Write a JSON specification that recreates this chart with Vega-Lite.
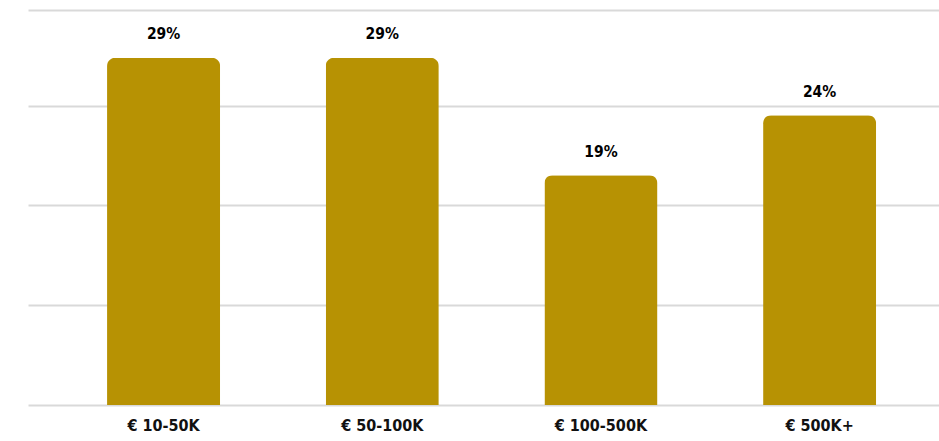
{
  "$schema": "https://vega.github.io/schema/vega-lite/v6.json",
  "autosize": "none",
  "padding": {"left": 28, "top": 10, "right": 0, "bottom": 36},
  "width": 911,
  "height": 395,
  "background": "white",
  "config": {"view": {"stroke": null}},
  "data": {"values": [
    {"range": "€ 10-50K", "share": 0.290},
    {"range": "€ 50-100K", "share": 0.290},
    {"range": "€ 100-500K", "share": 0.192},
    {"range": "€ 500K+", "share": 0.242}
  ]},
  "encoding": {
    "x": {"field": "range", "type": "nominal", "sort": null,
      "scale": {"paddingInner": 0.483, "paddingOuter": 0.3245, "align": 0.557},
      "axis": {"title": null, "domain": false, "ticks": false, "labelAngle": 0,
        "labelFont": "DejaVu Sans Condensed", "labelFontWeight": "bold", "labelFontSize": 16,
        "labelColor": "#111111", "labelPadding": 12}},
    "y": {"field": "share", "type": "quantitative",
      "scale": {"domain": [0, 0.33], "nice": false},
      "axis": {"title": null, "labels": false, "ticks": false, "domain": false,
        "values": [0, 0.0835, 0.1667, 0.2498, 0.33],
        "gridColor": "#d9d9d9", "gridWidth": 2}}
  },
  "layer": [
    {"mark": {"type": "bar", "color": "#B79203", "cornerRadiusTopLeft": 8, "cornerRadiusTopRight": 8}},
    {"mark": {"type": "text", "baseline": "middle", "dy": -23.5, "font": "DejaVu Sans Condensed", "fontWeight": "bold", "fontSize": 15.5, "color": "#000000"},
      "encoding": {"text": {"field": "share", "type": "quantitative", "format": ".0%"}}}
  ]
}
